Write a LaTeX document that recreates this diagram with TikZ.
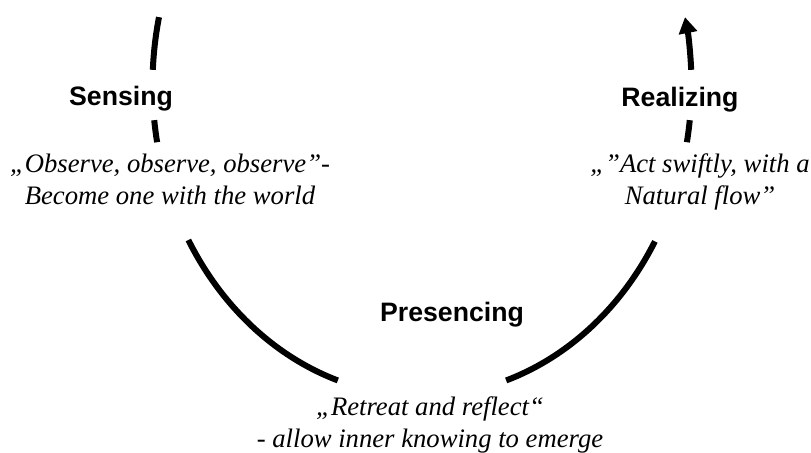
\documentclass[tikz,border=0pt]{standalone}
\usepackage{fontspec}
\setmainfont{Liberation Serif}
\setsansfont{Liberation Sans}
\usetikzlibrary{arrows.meta}

\begin{document}
\begin{tikzpicture}[x=0.75pt,y=0.75pt,
	stage/.style={font=\fontsize{20}{24}\selectfont\sffamily\bfseries,anchor=base,inner sep=0pt},
	saying/.style={font=\fontsize{20}{24}\selectfont\itshape,align=center,anchor=base,inner sep=0pt},
	cycleline/.style={line width=4.5pt}]
	\useasboundingbox (0,0) rectangle (811,453);
	\coordinate (c) at (422,368);
	
	% broken cycle, gaps left open for the labels
	\foreach \a/\b in {167.4/177.2,186.5/190.6,209.9/251.8,288.2/329.8,349.4/353.5}
		\draw[cycleline] (c) ++(\a:269.5 and 311) arc[start angle=\a,end angle=\b,x radius=269.5,y radius=311];
	
	% last piece carries the arrow
	\draw[cycleline,-{Triangle[length=12pt,width=13.5pt]}] (c) ++(362.8:269.5 and 311) arc[start angle=362.8,end angle=372.6,x radius=269.5,y radius=311];
	
	% stages
	\node[stage] (sensing) at (121,347) {Sensing};
	\node[stage] (realizing) at (680,346) {Realizing};
	\node[stage] (presencing) at (452,131) {Presencing};
	
	% sayings under the stages (base = last line)
	\node[saying] (sensingtxt) at (170,248) {„Observe, observe, observe”-\\Become one with the world};
	\node[saying] (realizingtxt) at (700,248) {„”Act swiftly, with a\\Natural flow”};
	\node[saying] (presencingtxt) at (430,5) {„Retreat and reflect“\\- allow inner knowing to emerge};
\end{tikzpicture}
\end{document}
